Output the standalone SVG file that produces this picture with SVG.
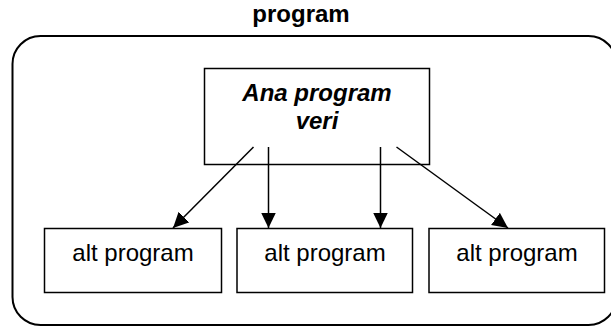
<svg xmlns="http://www.w3.org/2000/svg" width="611" height="327" viewBox="0 0 611 327">
  <style>
    .box { fill: #ffffff; stroke: #000000; stroke-width: 1.5; }
    .frame { fill: none; stroke: #000000; stroke-width: 2; }
    .edge { stroke: #000000; stroke-width: 1.5; fill: none; marker-end: url(#arrow); }
    .lbl { font-family: "Liberation Sans", Arial, sans-serif; font-size: 24px; fill: #000000; text-anchor: middle; }
    .title { font-weight: bold; }
    .main { font-weight: bold; font-style: italic; }
  </style>
  <defs>
    <marker id="arrow" markerUnits="userSpaceOnUse" markerWidth="16" markerHeight="16" refX="15.5" refY="7.5" orient="auto">
      <path d="M0,0 L15.5,7.5 L0,15 z" fill="#000000"/>
    </marker>
  </defs>
  <rect width="611" height="327" fill="#ffffff"/>
  <g id="container">
    <rect class="frame" x="12.5" y="36" width="604" height="289" rx="28" ry="28"/>
    <text class="lbl title" x="301" y="22">program</text>
  </g>
  <g id="main">
    <rect class="box" x="204.5" y="68.5" width="225" height="96"/>
    <text class="lbl main" x="317" y="100.5">Ana program</text>
    <text class="lbl main" x="317" y="128.5">veri</text>
  </g>
  <g id="sub1">
    <rect class="box" x="44.5" y="228.5" width="177" height="64"/>
    <text class="lbl" x="133" y="261">alt program</text>
  </g>
  <g id="sub2">
    <rect class="box" x="237" y="228.5" width="175.5" height="64"/>
    <text class="lbl" x="325" y="261">alt program</text>
  </g>
  <g id="sub3">
    <rect class="box" x="429" y="228.5" width="175.5" height="64"/>
    <text class="lbl" x="517" y="261">alt program</text>
  </g>
  <g id="connectors">
    <line class="edge" x1="253.5" y1="147" x2="173" y2="228"/>
    <line class="edge" x1="268.5" y1="147" x2="268.5" y2="228"/>
    <line class="edge" x1="380.5" y1="147" x2="380.5" y2="228"/>
    <line class="edge" x1="396.5" y1="147" x2="508" y2="228"/>
  </g>
</svg>
